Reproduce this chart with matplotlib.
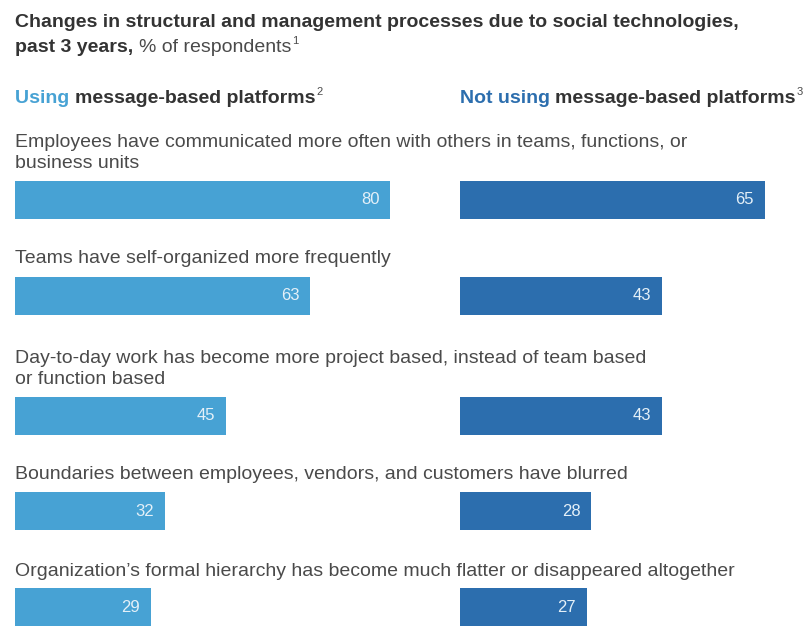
"""Horizontal bar pairs: structural changes from social technologies."""
import matplotlib
matplotlib.use('Agg')
import matplotlib.pyplot as plt

plt.rcParams['font.family'] = ['Liberation Sans', 'DejaVu Sans']

statements = [
    ['Employees have communicated more often with others in teams, functions, or',
     'business units'],
    ['Teams have self-organized more frequently'],
    ['Day-to-day work has become more project based, instead of team based',
     'or function based'],
    ['Boundaries between employees, vendors, and customers have blurred'],
    ["Organization\u2019s formal hierarchy has become much flatter or disappeared altogether"],
]
using = [80, 63, 45, 32, 29]
not_using = [65, 43, 43, 28, 27]

W, H = 806, 626
fig = plt.figure(figsize=(W / 100, H / 100), dpi=100)

# text layer in pixel coordinates
tx = fig.add_axes([0, 0, 1, 1])
tx.set_xlim(0, W)
tx.set_ylim(H, 0)
tx.axis('off')

c_light = '#47a2d4'
c_dark = '#2c6eae'
c_text = '#4a4a4a'
c_title = '#333333'
fs = 14

fig.canvas.draw()
renderer = fig.canvas.get_renderer()


def run_text(x, y, parts):
    """Write text pieces one after another on one baseline."""
    for s, kw in parts:
        t = tx.text(x, y, s, va='baseline', ha='left', **kw)
        x += t.get_window_extent(renderer=renderer).width
    return x


def sup(x, y, s, color=c_text):
    tx.text(x + 1, y - 8, s, va='baseline', ha='left', fontsize=8, color=color)


# title
tx.text(15, 27, 'Changes in structural and management processes due to social technologies,',
        fontsize=fs, fontweight='bold', color=c_title, va='baseline')
x = run_text(15, 52, [('past 3 years, ', dict(fontsize=fs, fontweight='bold', color=c_title)),
                      ('% of respondents', dict(fontsize=fs, color=c_text))])
sup(x, 52, '1')

# column headers
x = run_text(15, 103, [('Using ', dict(fontsize=fs, fontweight='bold', color=c_light)),
                       ('message-based platforms', dict(fontsize=fs, fontweight='bold', color=c_title))])
sup(x, 103, '2')
x = run_text(460, 103, [('Not using ', dict(fontsize=fs, fontweight='bold', color=c_dark)),
                        ('message-based platforms', dict(fontsize=fs, fontweight='bold', color=c_title))])
sup(x, 103, '3')

# statement labels, one line at a time
label_y = [147, 263, 363, 479, 576]
line_gap = 21
for lines, y in zip(statements, label_y):
    for k, s in enumerate(lines):
        tx.text(15, y + k * line_gap, s, fontsize=fs, color=c_text, va='baseline')

# bars
bar_y = [200, 296, 416, 511, 607]
px_per_unit = 4.69
span = 100
for x0, vals, col in [(15, using, c_light), (460, not_using, c_dark)]:
    ax = fig.add_axes([x0 / W, 0, span * px_per_unit / W, 1])
    ax.set_xlim(0, span)
    ax.set_ylim(H, 0)
    ax.axis('off')
    ax.barh(bar_y, vals, height=38, color=col, edgecolor='none')
    for v, y in zip(vals, bar_y):
        ax.text(v - 2.3, y, str(v), ha='right', va='center', fontsize=12,
                color='#e4f0f8')

fig.savefig('out.png', dpi=100)
